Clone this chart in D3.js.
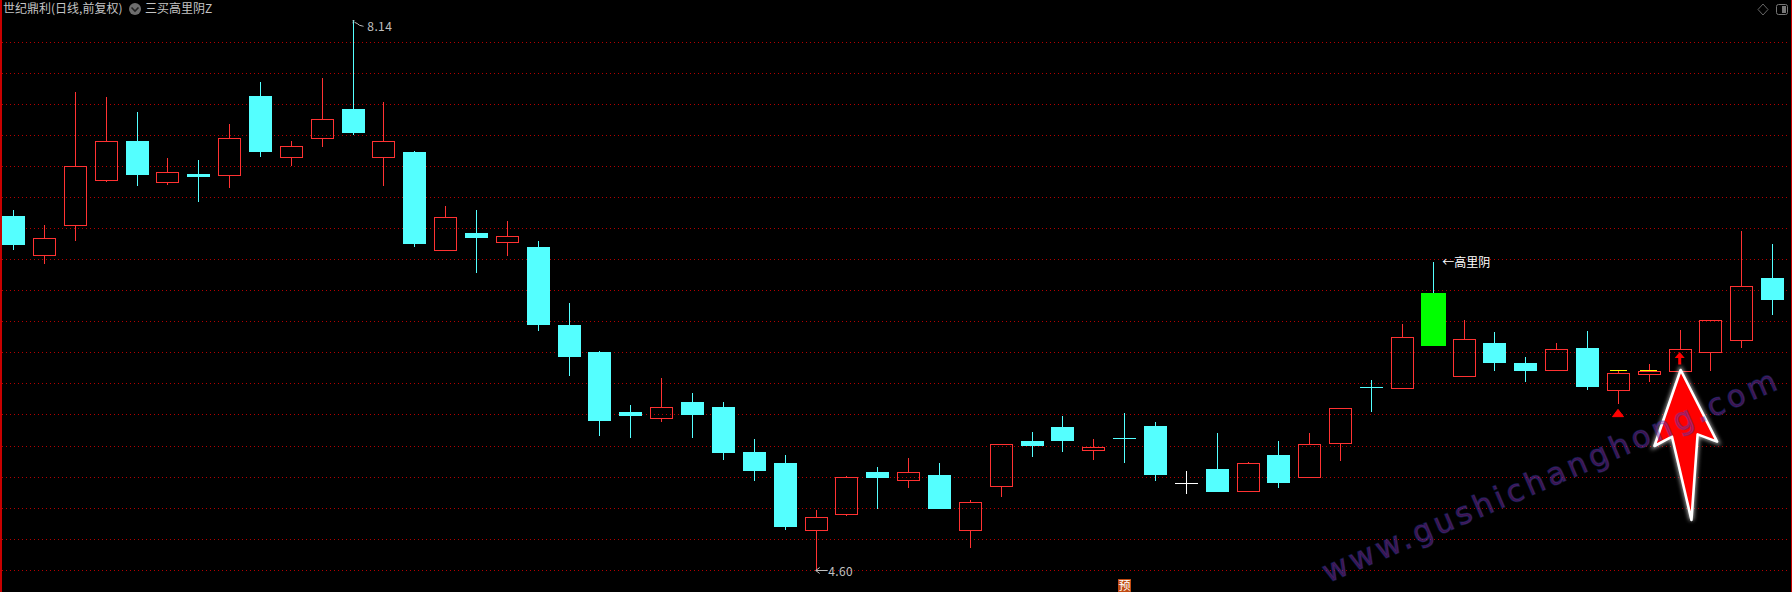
<!DOCTYPE html>
<html><head><meta charset="utf-8">
<style>html,body{margin:0;padding:0;background:#000;overflow:hidden}svg{display:block}</style>
<script src="https://cdn.jsdelivr.net/npm/d3@7"></script>
</head><body><svg id="c" width="1792" height="592"></svg>
<script>
const highs=[6.917,6.820,7.677,7.644,7.548,7.252,7.239,7.471,7.741,7.361,7.767,8.140,7.612,7.297,6.943,6.917,6.846,6.718,6.318,6.009,5.662,5.836,5.739,5.681,5.443,5.340,4.986,5.205,5.263,5.321,5.289,5.050,5.409,5.488,5.591,5.443,5.610,5.552,5.237,5.482,5.295,5.430,5.482,5.641,5.827,6.183,6.582,6.213,6.132,5.971,6.061,6.138,5.881,5.926,6.145,6.213,6.782,6.698];
const bodyTops=[6.878,6.735,7.198,7.359,7.361,7.159,7.149,7.378,7.651,7.327,7.501,7.567,7.359,7.290,6.870,6.769,6.748,6.679,6.177,6.003,5.617,5.647,5.681,5.649,5.359,5.289,4.939,5.196,5.231,5.229,5.211,5.035,5.409,5.430,5.520,5.392,5.447,5.527,5.158,5.250,5.287,5.340,5.409,5.641,5.776,6.097,6.383,6.085,6.061,5.932,6.020,6.029,5.866,5.879,6.020,6.207,6.428,6.479];
const bodyBottoms=[6.692,6.623,6.816,7.106,7.142,7.093,7.129,7.138,7.290,7.254,7.376,7.413,7.254,6.698,6.655,6.737,6.707,6.177,5.971,5.559,5.591,5.574,5.598,5.353,5.237,4.877,4.853,4.956,5.192,5.175,4.993,4.853,5.136,5.398,5.430,5.374,5.447,5.211,5.158,5.102,5.104,5.160,5.194,5.413,5.776,5.767,6.042,5.844,5.932,5.881,5.883,5.778,5.754,5.857,5.877,5.999,6.082,6.338];
const lows=[6.660,6.569,6.720,7.099,7.072,7.078,6.969,7.059,7.258,7.200,7.325,7.400,7.072,6.679,6.655,6.512,6.621,6.138,5.849,5.462,5.450,5.553,5.450,5.308,5.173,4.857,4.600,4.947,4.993,5.128,4.993,4.741,5.070,5.327,5.359,5.308,5.289,5.173,5.089,5.102,5.104,5.128,5.194,5.302,5.617,5.767,6.042,5.844,5.881,5.810,5.883,5.758,5.668,5.810,5.877,5.881,6.029,6.241];
// r = rising (hollow red), c = falling (solid cyan), g = signal candle (green), w = flat doji (white)
const kinds=("crrrcrcrcrrcrcrcrccc"+"crccccrrcr"+"crrccrccwc"+"rcrrcrgrcc"+"rcrrrrrc").split("");
const gridPrices=[8.0,7.8,7.6,7.4,7.2,7.0,6.8,6.6,6.4,6.2,6.0,5.8,5.6,5.4,5.2,5.0,4.8,4.6];
const yellowMarks=[[52,5.885],[53,5.885]];
const bigArrow=[[54.03,5.889],[55.21,5.428],[54.58,5.475],[54.38,4.924],[53.75,5.460],[53.18,5.400]];
const titleText="世纪鼎利(日线,前复权)", indicatorText="三买高里阴Z", signalText="←高里阴", watermark="www.gushichanghong.com";

const W=1792,H=592;
const x=d3.scaleLinear().domain([0,57]).range([13.4,1772.3]);
const y=d3.scaleLinear().domain([4.6,8.14]).range([570.3,20.3]);
const svg=d3.select("#c");
const FONT='"Noto Sans CJK SC","Liberation Sans",sans-serif';
svg.append("rect").attr("width",W).attr("height",H).attr("fill","#000");

svg.append("rect").attr("x",0).attr("y",0).attr("width",2).attr("height",H).attr("fill","#c80000");
svg.append("rect").attr("x",W-1).attr("y",0).attr("width",1).attr("height",H).attr("fill","#c80000");

svg.append("g").selectAll("line").data(gridPrices).join("line")
 .attr("x1",2).attr("x2",W-3)
 .attr("y1",d=>Math.floor(y(d))+.5).attr("y2",d=>Math.floor(y(d))+.5)
 .attr("stroke","#b40000").attr("stroke-dasharray","1 3").attr("shape-rendering","crispEdges");

const colors={r:"#ff3232",c:"#54ffff",g:"#00ff00",w:"#ffffff"};
const wickColor=k=>k==="g"?colors.c:colors[k];
const data=highs.map((h,i)=>({i,h,t:bodyTops[i],b:bodyBottoms[i],l:lows[i],k:kinds[i]}));
const px=v=>Math.floor(v)+.5;
const cxOf=i=>Math.round(x(i)-.2);
const g=svg.append("g").attr("shape-rendering","crispEdges");
const candle=g.selectAll("g").data(data).join("g");
candle.append("line").attr("x1",d=>cxOf(d.i)+.5).attr("x2",d=>cxOf(d.i)+.5).attr("y1",d=>y(d.h)).attr("y2",d=>y(d.t)).attr("stroke",d=>wickColor(d.k));
candle.append("line").attr("x1",d=>cxOf(d.i)+.5).attr("x2",d=>cxOf(d.i)+.5).attr("y1",d=>y(d.b)).attr("y2",d=>y(d.l)).attr("stroke",d=>wickColor(d.k));
candle.each(function(d){
 const s=d3.select(this),c=colors[d.k],cx=cxOf(d.i);
 if(d.k==="r"){
  s.append("rect").attr("x",cx-10.5).attr("width",22).attr("y",px(y(d.t))).attr("height",Math.max(1,Math.round(y(d.b)-y(d.t))))
   .attr("fill","none").attr("stroke",c);
 }else if(d.t===d.b){
  s.append("line").attr("x1",cx-11).attr("x2",cx+12).attr("y1",px(y(d.t))).attr("y2",px(y(d.t))).attr("stroke",c);
 }else{
  const w=d.k==="g"?25:23;
  s.append("rect").attr("x",cx-Math.floor(w/2)).attr("width",w).attr("y",Math.round(y(d.t))).attr("height",Math.max(2,Math.round(y(d.b)-y(d.t)))).attr("fill",c);
 }
});

g.selectAll("line.y").data(yellowMarks).join("line").attr("class","y")
 .attr("x1",d=>x(d[0])-8.5).attr("x2",d=>x(d[0])+8.5).attr("y1",d=>y(d[1])).attr("y2",d=>y(d[1]))
 .attr("stroke","#ffff00");

svg.append("path").attr("fill","#ff0000").attr("stroke","#ff0000").attr("stroke-linejoin","round")
 .attr("d",`M${x(52)},${y(5.636)}L${x(52)+5.5},${y(5.589)}H${x(52)-5.5}Z`);
svg.append("path").attr("fill","#ff0000")
 .attr("d",`M${x(54)},${y(6.005)}l5,6h-3.5v6.5h-3v-6.5h-3.5Z`);

const grey="#c0c0c0";
svg.append("path").attr("fill","none").attr("stroke",grey)
 .attr("d",`M${px(x(11))},${y(8.14)+.5}h2M${px(x(11))},${y(8.14)+2.5}h1M${px(x(11))+2},${y(8.14)+2}q3,1 5,3q4,1 4,1`);
svg.append("text").attr("x",x(11)+14.5).attr("y",y(8.14)+11).attr("fill",grey).attr("font-family",FONT).attr("font-size",12).attr("letter-spacing",.4).text("8.14");
svg.append("path").attr("fill","none").attr("stroke",grey)
 .attr("d",`M${x(26)},${px(y(4.6))}h12M${x(26)},${px(y(4.6))}l4,-3M${x(26)},${px(y(4.6))}l4,3`);
svg.append("text").attr("x",x(26)+12.5).attr("y",y(4.6)+5.5).attr("fill",grey).attr("font-family",FONT).attr("font-size",12).attr("letter-spacing",.4).text("4.60");

svg.append("text").attr("x",x(46)+9.5).attr("y",y(6.582)+5).attr("fill","#fff").attr("font-family",FONT).attr("font-size",12).text(signalText);

svg.append("text").attr("x",3).attr("y",13).attr("fill","#c4c4c4").attr("font-family",FONT).attr("font-size",12).text(titleText);
svg.append("circle").attr("cx",135).attr("cy",9).attr("r",6).attr("fill","#6e6e6e");
svg.append("path").attr("d","M131.5,7.5L135,11L138.5,7.5").attr("fill","none").attr("stroke","#222").attr("stroke-width",1.6);
svg.append("text").attr("x",145).attr("y",13).attr("fill","#c4c4c4").attr("font-family",FONT).attr("font-size",12).text(indicatorText);

svg.append("path").attr("d","M1763,4L1768,9.5L1763,15L1758,9.5Z").attr("fill","none").attr("stroke","#666");
svg.append("rect").attr("x",1776.5).attr("y",4.5).attr("width",11).attr("height",10).attr("rx",2).attr("fill","none").attr("stroke","#777");
svg.append("rect").attr("x",1782).attr("y",6).attr("width",4).attr("height",7).attr("fill","#777");

svg.append("rect").attr("x",1118).attr("y",579).attr("width",13).attr("height",13).attr("fill","#c04a12");
svg.append("text").attr("x",1124.5).attr("y",590).attr("text-anchor","middle").attr("fill","#fff").attr("font-family",FONT).attr("font-size",12).text("预");

const defs=svg.append("defs");
const f=defs.append("filter").attr("id","glow").attr("x","-30%").attr("y","-30%").attr("width","160%").attr("height","160%");
f.append("feGaussianBlur").attr("stdDeviation",2);
const line=d3.line().x(d=>x(d[0])).y(d=>y(d[1])).curve(d3.curveLinearClosed);
svg.append("path").attr("d",line(bigArrow)).attr("fill","none").attr("stroke","#fff").attr("stroke-width",4).attr("filter","url(#glow)").attr("opacity",.7);
svg.append("path").attr("d",line(bigArrow)).attr("fill","#ff0000").attr("stroke","#fff").attr("stroke-width",2.6).attr("stroke-linejoin","round");

const wm=svg.append("text").attr("transform","translate(1328,583) rotate(-23.3)").attr("font-family",'"DejaVu Sans"').attr("font-size",30.5)
 .attr("letter-spacing",3.9).text(watermark);
wm.attr("fill","#8a2a9a").attr("fill-opacity",.48).attr("stroke","#3040b0").attr("stroke-opacity",.35).attr("stroke-width",1.4);
</script></body></html>
